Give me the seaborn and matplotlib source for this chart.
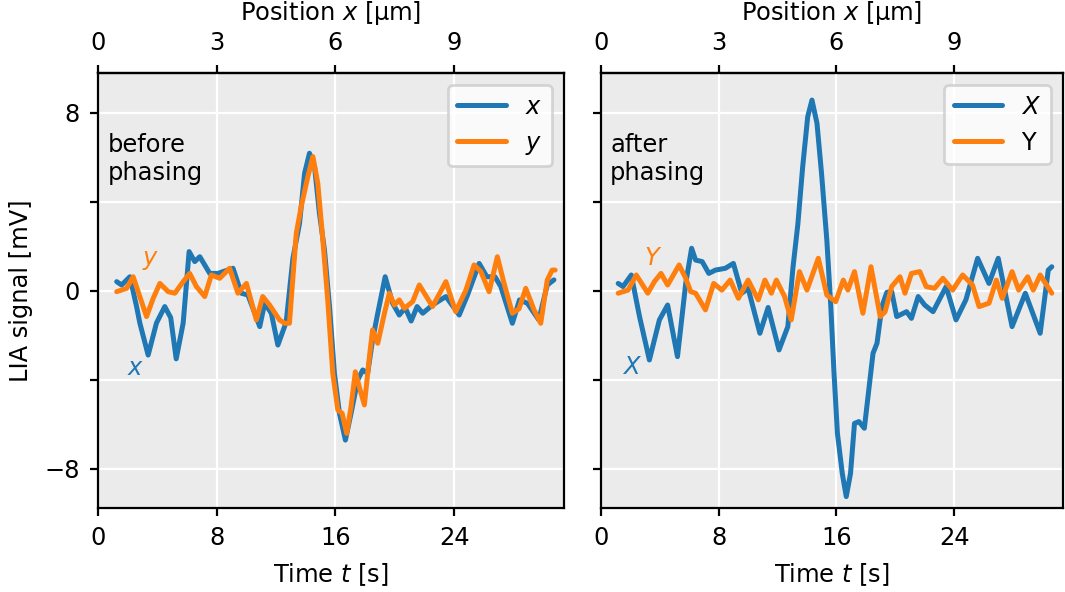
import numpy as np
import pandas as pd
import matplotlib
matplotlib.use("Agg")
import matplotlib.pyplot as plt
import seaborn as sns

# ---------------- data ----------------
# before phasing: x (blue)
t_x1 = [1.26, 1.59, 2.15, 2.6, 2.82, 3.38, 3.94, 4.5, 4.9, 5.27, 5.74, 6.14, 6.52, 6.86,
        7.53, 8.09, 8.42, 9.1, 9.66, 10.1, 10.9, 11.23, 11.68, 12.12, 12.68, 13.13,
        13.58, 13.92, 14.25, 14.59, 14.92, 15.26, 15.6, 15.93, 16.27, 16.67, 17.05,
        17.5, 17.84, 18.17, 18.5, 18.85, 19.35, 19.85, 20.3, 20.7, 21.1, 21.5, 21.88,
        22.54, 23.44, 24.34, 24.9, 25.68, 26.2, 26.75, 27.14, 27.92, 28.4, 28.93,
        29.7, 30.27, 30.72]
v_x1 = [0.42, 0.27, 0.64, -0.7, -1.44, -2.88, -1.44, -0.7, -1.2, -3.05, -1.44, 1.77, 1.32, 1.54,
        0.79, 0.79, 0.87, 1.02, -0.1, -0.18, -1.6, -0.55, -1.0, -2.43, -1.4, 1.45,
        3.04, 5.29, 6.19, 5.59, 3.49, 1.84, -0.7, -3.7, -5.5, -6.7, -5.5,
        -4.0, -3.55, -3.7, -2.2, -1.0, 0.64, -0.55, -1.08, -0.75, -1.35, -0.7, -1.0,
        -0.63, -0.25, -1.08, -0.18, 1.24, 0.64, 0.64, 0.2, -1.45, -0.4, -0.55,
        -1.3, 0.27, 0.5]

# before phasing: y (orange)
t_y1 = [1.26, 1.93, 2.37, 3.27, 3.72, 4.17, 4.73, 5.18, 5.74, 6.18, 6.63, 7.19, 7.64,
        8.2, 8.87, 9.43, 10.0, 10.67, 11.1, 11.56, 12.23, 12.57, 12.9, 13.36, 13.69,
        14.14, 14.48, 14.81, 15.15, 15.48, 15.82, 16.16, 16.45, 16.76, 17.05, 17.34,
        17.6, 17.95, 18.29, 18.5, 18.85, 19.3, 19.63, 19.97, 20.3, 20.64, 21.2,
        21.65, 22.54, 23.44, 24.1, 24.79, 25.34, 25.8, 26.35, 26.91, 27.36, 27.92,
        28.37, 28.82, 29.38, 29.83, 30.27, 30.6, 30.8]
v_y1 = [-0.03, 0.12, 0.64, -1.15, -0.33, 0.34, -0.03, -0.1, 0.42, 0.79, 0.2, -0.25, 0.72,
        0.57, 1.02, -0.1, 0.34, -1.3, -0.25, -0.63, -1.3, -1.45, -1.45, 2.59, 3.79,
        5.14, 6.04, 4.84, 2.29, -0.4, -3.7, -5.35, -5.5, -6.4, -5.2, -3.63,
        -4.3, -5.12, -2.95, -1.75, -2.35, -1.0, -0.1, -0.63, -0.4, -0.78, -0.48,
        0.27, -0.7, 0.42, -0.93, 0.04, 1.17, 0.87, -0.03, 1.54, 0.34, -1.0,
        -0.8, 0.12, -0.85, -1.45, 0.49, 0.94, 0.94]

# after phasing: X (blue)
t_x2 = [1.17, 1.5, 2.06, 2.62, 3.29, 3.97, 4.53, 5.2, 5.76, 6.16, 6.43, 6.88, 7.33, 7.78,
        8.45, 9.0, 9.57, 10.0, 10.8, 11.36, 12.1, 12.7, 13.04, 13.38, 13.71, 14.05,
        14.34, 14.68, 14.99, 15.35, 15.62, 15.84, 16.07, 16.4, 16.67, 16.96, 17.23,
        17.53, 17.9, 18.2, 18.49, 18.76, 19.09, 19.43, 19.76, 20.1, 20.77, 21.1,
        21.56, 22.0, 22.57, 23.46, 24.13, 24.8, 25.6, 26.37, 27.0, 27.94, 28.84,
        29.85, 30.4, 30.64]
v_x2 = [0.34, 0.2, 0.72, -1.15, -3.1, -1.3, -0.63, -2.95, 0.34, 1.92, 1.39, 1.32, 0.79, 0.94,
        1.02, 1.24, -0.1, 0.12, -1.9, -0.74, -2.65, -1.6, 1.0, 3.0, 5.59, 7.83,
        8.58, 7.54, 5.29, 2.29, -0.7, -3.7, -6.4, -8.2, -9.24, -8.2, -5.95,
        -5.87, -6.17, -4.45, -2.8, -2.35, -0.7, -0.06, -0.03, -1.15, -0.93, -1.23,
        -0.25, -0.63, -0.93, 0.2, -1.3, -0.4, 1.47, 0.34, 1.47, -1.6, -0.1,
        -1.9, 0.94, 1.09]

# after phasing: Y (orange)
t_y2 = [1.17, 1.84, 2.4, 3.18, 3.63, 4.08, 4.53, 5.31, 5.76, 6.1, 6.43, 7.1, 7.66, 8.22,
        8.78, 9.34, 10.0, 10.69, 11.14, 11.58, 11.92, 12.48, 12.93, 13.49, 14.0,
        14.77, 15.35, 15.95, 16.47, 16.78, 17.23, 17.8, 18.35, 18.98, 19.31, 19.76,
        20.32, 20.66, 21.1, 21.67, 22.1, 22.67, 23.24, 23.9, 24.58, 25.25, 25.7,
        26.37, 26.87, 27.27, 27.94, 28.39, 29.0, 29.38, 29.85, 30.64]
v_y2 = [-0.1, 0.04, 0.72, -0.1, 0.42, 0.79, 0.27, 1.17, 0.57, -0.03, -0.1, -0.85, 0.34, 0.04,
        0.49, -0.33, 0.49, -0.4, 0.49, -0.1, 0.49, -0.25, -1.3, 0.87, 0.04,
        1.47, -0.18, -0.48, 0.49, 0.04, 0.87, -1.0, 1.09, -1.15, -0.93, 0.2,
        0.64, -0.1, 0.79, 0.87, 0.2, 0.12, 0.57, 0.04, 0.72, 0.27, -0.7,
        -0.55, 0.49, -0.33, 0.87, 0.04, 0.64, 0.04, 0.72, -0.1]

y_ticks = [-8, -4, 0, 4, 8]
y_ticklabels = ["\u22128", "", "0", "", "8"]
t_ticks = [0, 8, 16, 24]
pos_ticks = [0, 3, 6, 9]

# ---------------- style ----------------
FS = 8.7
LW = 1.8
sns.set_theme(style="darkgrid", rc={
    "axes.facecolor": "#EBEBEB",
    "axes.edgecolor": "black",
    "axes.linewidth": 0.8,
    "grid.color": "white",
    "grid.linewidth": 0.8,
    "xtick.bottom": True, "ytick.left": True,
    "xtick.major.size": 3.0, "ytick.major.size": 3.0,
    "xtick.major.width": 0.8, "ytick.major.width": 0.8,
    "xtick.color": "black", "ytick.color": "black",
    "text.color": "black", "axes.labelcolor": "black",
    "font.size": FS, "axes.labelsize": FS, "xtick.labelsize": FS,
    "ytick.labelsize": FS, "legend.fontsize": FS,
    "lines.linewidth": LW,
    "lines.solid_joinstyle": "round",
    "lines.solid_capstyle": "round",
    "mathtext.fontset": "dejavusans",
})
plt.rcParams["font.family"] = ["DejaVu Sans"]

BLUE = "#1f77b4"
ORANGE = "#ff7f0e"

fig = plt.figure(figsize=(5.325, 2.96), dpi=200)
ax1 = fig.add_axes([0.092, 0.142, 0.4376, 0.7348])
ax2 = fig.add_axes([0.5643, 0.142, 0.4338, 0.7348])

panels = [
    (ax1, t_x1, v_x1, t_y1, v_y1, "$x$", "$y$", "$x$", "$y$", "before\nphasing", (2.55, -3.46), (3.56, 1.39)),
    (ax2, t_x2, v_x2, t_y2, v_y2, "$X$", "Y", "$X$", "$Y$", "after\nphasing", (2.08, -3.42), (3.56, 1.48)),
]

for ax, tx, vx, ty, vy, lx, ly, cx, cy, note, px, py in panels:
    dfx = pd.DataFrame({"t": tx, "v": vx})
    dfy = pd.DataFrame({"t": ty, "v": vy})
    sns.lineplot(data=dfx, x="t", y="v", ax=ax, color=BLUE, label=lx, estimator=None, lw=LW)
    sns.lineplot(data=dfy, x="t", y="v", ax=ax, color=ORANGE, label=ly, estimator=None, lw=LW)
    ax.set_xlim(0, 31.4)
    ax.set_ylim(-9.75, 9.8)
    ax.set_xticks(t_ticks)
    ax.set_yticks(y_ticks)
    ax.set_xlabel("Time $t$ [s]")
    ax.set_ylabel("")
    for s in ax.spines.values():
        s.set_visible(True)
        s.set_color("black")
        s.set_linewidth(0.8)
    ax.tick_params(direction="out", length=3.0, width=0.8, pad=3.5)
    sec = ax.secondary_xaxis("top", functions=(lambda t: t * 0.375, lambda p: p / 0.375))
    sec.set_xticks(pos_ticks)
    sec.set_xlabel("Position $x$ [\u00b5m]")
    sec.tick_params(direction="out", length=3.0, width=0.8, pad=3.5)
    ax.text(0.02, 0.862, note, transform=ax.transAxes, ha="left", va="top", fontsize=FS)
    ax.text(px[0], px[1], cx, color=BLUE, ha="center", va="center", fontsize=FS)
    ax.text(py[0], py[1], cy, color=ORANGE, ha="center", va="center", fontsize=FS)
    leg = ax.legend(loc="upper right", frameon=True, fancybox=True, facecolor="white",
                    framealpha=0.8, edgecolor="#CCCCCC")

ax1.set_yticklabels(y_ticklabels)
ax1.set_ylabel("LIA signal [mV]")
ax2.set_yticklabels([])

fig.savefig("out.png", dpi=200)
